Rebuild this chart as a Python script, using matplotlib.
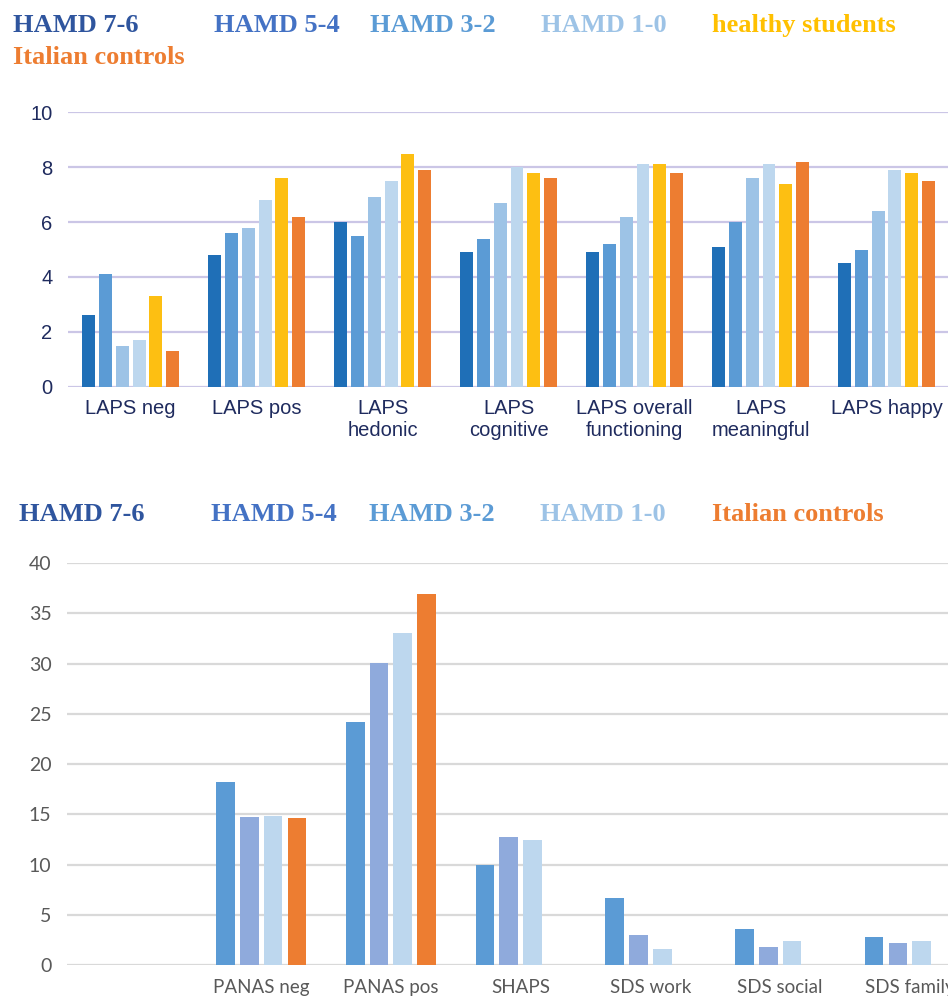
import matplotlib
matplotlib.use("Agg")
import matplotlib.pyplot as plt
import numpy as np

# ---- top chart data (LAPS) ----
laps_labels = ["LAPS neg", "LAPS pos", "LAPS\nhedonic", "LAPS\ncognitive",
               "LAPS overall\nfunctioning", "LAPS\nmeaningful", "LAPS happy"]
hamd76_top = [2.6, 4.8, 6.0, 4.9, 4.9, 5.1, 4.5]
hamd54_top = [4.1, 5.6, 5.5, 5.4, 5.2, 6.0, 5.0]
hamd32_top = [1.5, 5.8, 6.9, 6.7, 6.2, 7.6, 6.4]
hamd10_top = [1.7, 6.8, 7.5, 8.0, 8.1, 8.1, 7.9]
students_top = [3.3, 7.6, 8.5, 7.8, 8.1, 7.4, 7.8]
italian_top = [1.3, 6.2, 7.9, 7.6, 7.8, 8.2, 7.5]

# ---- bottom chart data (PANAS / SHAPS / SDS) ----
scale_labels = ["", "PANAS neg", "PANAS pos", "SHAPS", "SDS work", "SDS social", "SDS family"]
hamd76_bot = [np.nan, 18.2, 24.2, 10.0, 6.7, 3.6, 2.8]
hamd54_bot = [np.nan, 14.7, 30.1, 12.7, 3.0, 1.8, 2.2]
hamd32_bot = [np.nan, 14.8, 33.0, 12.4, 1.6, 2.4, 2.4]
italian_bot = [np.nan, 14.6, 36.9, np.nan, np.nan, np.nan, np.nan]

top_series = [hamd76_top, hamd54_top, hamd32_top, hamd10_top, students_top, italian_top]
top_colors = ["#1F6FB7", "#5B9BD5", "#9DC3E6", "#BDD7EE", "#FDBF12", "#ED7D31"]
bot_series = [hamd76_bot, hamd54_bot, hamd32_bot, italian_bot]
bot_colors = ["#5B9BD5", "#8FAADC", "#BDD7EE", "#ED7D31"]

fig = plt.figure(figsize=(9.48, 9.96), dpi=100)

# ---------- top chart ----------
ax1 = fig.add_axes([0.0714, 0.6117, 0.9286, 0.2755])
x = np.arange(len(laps_labels))
step, width = 0.1325, 0.103
n = len(top_series)
for j, (vals, col) in enumerate(zip(top_series, top_colors)):
    ax1.bar(x + (j - (n - 1) / 2) * step, vals, width, color=col, zorder=3)
ax1.set_xlim(-0.5, 6.487)
ax1.set_ylim(0, 10)
ax1.set_yticks([0, 2, 4, 6, 8, 10])
ax1.set_xticks(x)
ax1.set_xticklabels(laps_labels)
ax1.yaxis.grid(True, color="#CBC6E6", lw=1.6, zorder=0)
for s in ax1.spines.values():
    s.set_visible(False)
ax1.tick_params(axis="both", length=0, labelsize=14.5, labelcolor="#1F2B5E")
ax1.tick_params(axis="y", pad=11)
ax1.tick_params(axis="x", pad=9)
for t in ax1.get_xticklabels() + ax1.get_yticklabels():
    t.set_fontfamily("Liberation Sans")

# ---------- bottom chart ----------
ax2 = fig.add_axes([0.0704, 0.0311, 0.9296, 0.4036])
x2 = np.arange(len(scale_labels))
step2, width2 = 0.183, 0.144
n2 = len(bot_series)
for j, (vals, col) in enumerate(zip(bot_series, bot_colors)):
    ax2.bar(x2 + (j - (n2 - 1) / 2) * step2, vals, width2, color=col, zorder=3)
ax2.set_xlim(-0.5, 6.295)
ax2.set_ylim(0, 40)
ax2.set_yticks(range(0, 41, 5))
ax2.set_xticks(x2)
ax2.set_xticklabels(scale_labels)
ax2.yaxis.grid(True, color="#D9D9D9", lw=1.6, zorder=0)
for s in ax2.spines.values():
    s.set_visible(False)
ax2.tick_params(axis="both", length=0, labelsize=14, labelcolor="#595959")
ax2.tick_params(axis="y", pad=11)
ax2.tick_params(axis="x", pad=10, labelsize=13.5)
for t in ax2.get_xticklabels() + ax2.get_yticklabels():
    t.set_fontfamily("Lato")

# ---------- text legends ----------
leg_font = dict(family="Liberation Serif", weight="bold", fontsize=19, va="baseline")
W, H = 948.0, 996.0


def put(xpx, ypx, txt, col):
    fig.text(xpx / W, 1 - ypx / H, txt, color=col, **leg_font)


put(13, 32, "HAMD 7-6", "#2F559E")
put(214, 32, "HAMD 5-4", "#4472C4")
put(370, 32, "HAMD 3-2", "#5B9BD5")
put(541, 32, "HAMD 1-0", "#9DC3E6")
put(712, 32, "healthy students", "#FFC000")
put(13, 64, "Italian controls", "#ED7D31")

put(19, 521, "HAMD 7-6", "#2F559E")
put(211, 521, "HAMD 5-4", "#4472C4")
put(369, 521, "HAMD 3-2", "#5B9BD5")
put(540, 521, "HAMD 1-0", "#9DC3E6")
put(712, 521, "Italian controls", "#ED7D31")

fig.savefig("out.png", dpi=100)
